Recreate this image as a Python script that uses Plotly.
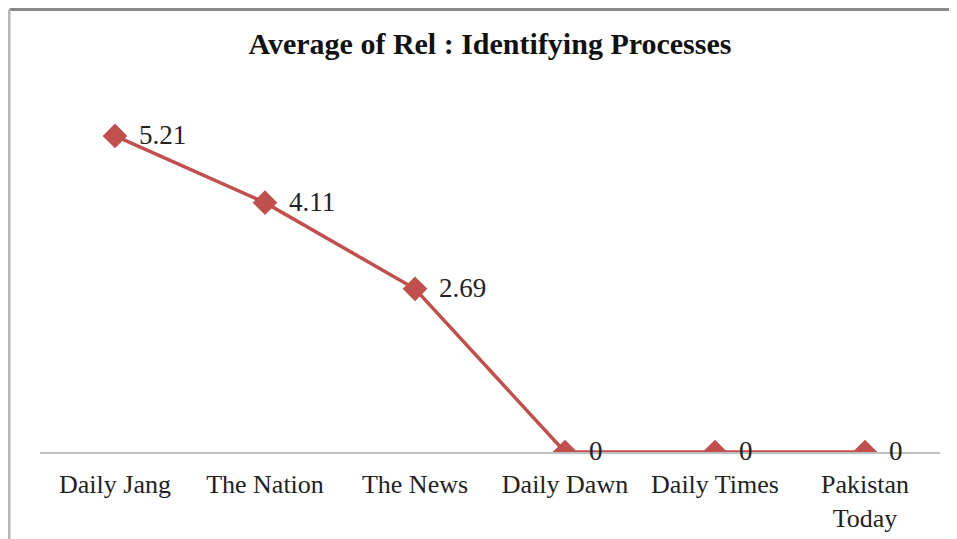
import plotly.graph_objects as go

categories = ["Daily Jang", "The Nation", "The News", "Daily Dawn", "Daily Times", "Pakistan<br>Today"]
values = [5.21, 4.11, 2.69, 0, 0, 0]
value_labels = ["5.21", "4.11", "2.69", "0", "0", "0"]
title_text = "Average of Rel : Identifying Processes"

RED = "#C0504D"
SERIF = "Liberation Serif, Times New Roman, serif"

fig = go.Figure()
fig.add_trace(go.Scatter(
    x=categories, y=values, mode="lines+markers",
    line=dict(color=RED, width=3.5),
    marker=dict(symbol="diamond", size=19, color=RED),
    hoverinfo="skip", showlegend=False,
))

for c, v, t in zip(categories, values, value_labels):
    fig.add_annotation(x=c, y=v, text=t, showarrow=False, xanchor="left",
                       yanchor="middle", xshift=22, yshift=1,
                       font=dict(family=SERIF, size=27, color="#222"))

fig.update_layout(
    width=957, height=539,
    margin=dict(l=32, r=25, t=80, b=95),
    paper_bgcolor="white", plot_bgcolor="white",
    title=dict(text="<b>" + title_text + "</b>", x=0.5, xref="paper",
               y=1 - 35 / 539, yanchor="middle",
               font=dict(family=SERIF, size=30, color="#111")),
    xaxis=dict(type="category", showline=True, linecolor="#bfbfbf", linewidth=2,
               showgrid=False, ticks="", zeroline=False, ticklen=0,
               ticklabelstandoff=8,
               tickfont=dict(family=SERIF, size=26, color="#222"),
               range=[-0.5, 5.5]),
    yaxis=dict(range=[0, 6], visible=False, showgrid=False, zeroline=False),
)

# outer chart frame (top and left edges visible in reference)
fig.add_shape(type="line", xref="paper", yref="paper", x0=-0.034, x1=1.03,
              y0=1.216, y1=1.216, line=dict(color="#8a8a8a", width=3))
fig.add_shape(type="line", xref="paper", yref="paper", x0=-0.0344, x1=-0.0344,
              y0=-0.3, y1=1.216, line=dict(color="#b8b8b8", width=3))

fig.write_html("out.html")
